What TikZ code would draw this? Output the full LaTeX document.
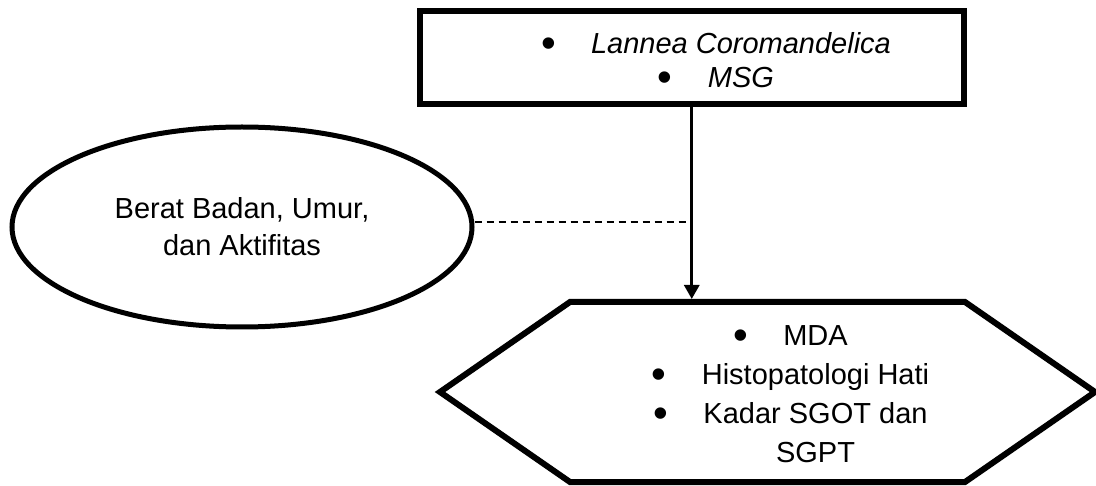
\documentclass[tikz,border=0pt]{standalone}
\usepackage{fontspec}
\setmainfont{Liberation Sans}
\usepackage{tikz}
\usetikzlibrary{shapes.geometric,arrows.meta}
\newcommand{\BL}{\makebox[49pt][l]{\hspace*{-1pt}\smash{\raisebox{-4pt}{\scalebox{1.45}{\upshape\textbullet}}}}}

\begin{document}
\begin{tikzpicture}[x=1pt, y=-1pt,
    boxline/.style={draw, line width=6pt, inner sep=0pt},
    txt/.style={align=center, inner sep=0pt, font=\fontsize{29}{39}\selectfont}]

  \useasboundingbox (0,0) rectangle (1096,486);

  %% top box
  \node[boxline, minimum width=544.5pt, minimum height=93pt] (top) at (691.75,58) {};
  \node[txt, font=\fontsize{29}{34}\selectfont\itshape] (toptxt) at (716.5,60)
    {\BL Lannea Coromandelica\\ \BL MSG};

  %% ellipse
  \node[boxline, ellipse, line width=5pt, minimum width=460pt, minimum height=200pt,
    txt, font=\fontsize{29}{37}\selectfont] (ell) at (242,227)
    {Berat Badan, Umur,\\ dan Aktifitas};

  %% hexagon
  \coordinate (h1) at (440,392);
  \coordinate (h2) at (570,302);
  \coordinate (h3) at (965,302);
  \coordinate (h4) at (1095,392);
  \coordinate (h5) at (965,482);
  \coordinate (h6) at (570,482);
  \draw[line width=6pt, line join=miter] (h1) -- (h2) -- (h3) -- (h4) -- (h5) -- (h6) -- cycle;
  \node[txt] (hextxt) at (791,394)
    {\BL MDA\\ \BL Histopatologi Hati\\ \BL Kadar SGOT dan\\ \hspace*{49pt}SGPT};

  %% ell -> line (dashed)
  \coordinate (dl) at ([yshift=5pt]ell.east);
  \draw[line width=1.5pt, dash pattern=on 7pt off 5pt] (dl) -- (dl -| top.south);

  %% top -> hexagon
  \draw[line width=3pt, -{Triangle[width=15pt,length=14pt]}, shorten >=3pt]
    (top.south) -- (top.south |- h2);
\end{tikzpicture}
\end{document}
